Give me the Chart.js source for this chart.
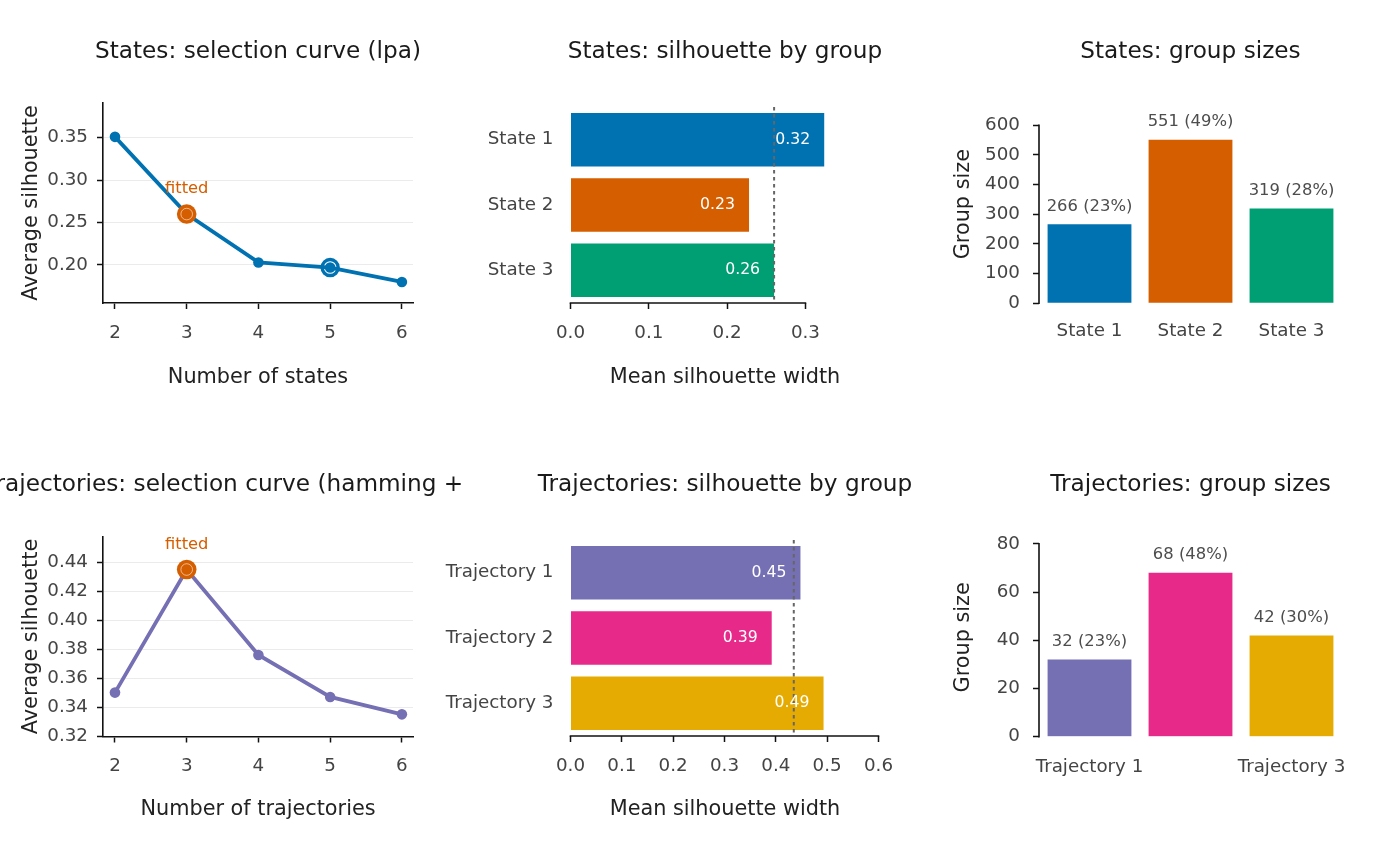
<!DOCTYPE html>
<html>
<head>
<meta charset="utf-8">
<title>Clustering selection summary</title>
<script src="https://cdn.jsdelivr.net/npm/chart.js@4.4.1/dist/chart.umd.min.js"></script>
<style>
  html, body { margin: 0; padding: 0; background: #fff; }
  #wrap { position: relative; width: 1400px; height: 866px; overflow: hidden; }
  canvas { position: absolute; }
</style>
</head>
<body>
<div id="wrap">
  <canvas id="stateCurve" width="465" height="433" style="left:0;top:0"></canvas>
  <canvas id="stateSil" width="510" height="433" style="left:420px;top:0"></canvas>
  <canvas id="stateSize" width="470" height="433" style="left:930px;top:0"></canvas>
  <canvas id="trajCurve" width="465" height="433" style="left:0;top:433px"></canvas>
  <canvas id="trajSil" width="510" height="433" style="left:420px;top:433px"></canvas>
  <canvas id="trajSize" width="470" height="433" style="left:930px;top:433px"></canvas>
</div>
<script>
// states (lpa)
const stateK = [2, 3, 4, 5, 6];
const stateSil = [0.351, 0.260, 0.203, 0.197, 0.180];
const stateFittedK = 3;
const stateRingK = 5;
const stateGroups = ['State 1', 'State 2', 'State 3'];
const stateGroupSil = [0.324, 0.228, 0.260];
const stateMeanSil = 0.260;
const stateSizes = [266, 551, 319];
const stateColors = ['#0072B2', '#D55E00', '#009E73'];

// trajectories (hamming + pam)
const trajK = [2, 3, 4, 5, 6];
const trajSil = [0.350, 0.435, 0.376, 0.347, 0.335];
const trajFittedK = 3;
const trajRingK = null;
const trajGroups = ['Trajectory 1', 'Trajectory 2', 'Trajectory 3'];
const trajGroupSil = [0.448, 0.392, 0.493];
const trajMeanSil = 0.435;
const trajSizes = [32, 68, 42];
const trajColors = ['#7570B3', '#E7298A', '#E6AB02'];

// tick values
const stateCurveTicks = [0.20, 0.25, 0.30, 0.35];
const trajCurveTicks = [0.32, 0.34, 0.36, 0.38, 0.40, 0.42, 0.44];
const stateSilTicks = [0, 0.1, 0.2, 0.3];
const trajSilTicks = [0, 0.1, 0.2, 0.3, 0.4, 0.5, 0.6];
const stateSizeTicks = [0, 100, 200, 300, 400, 500, 600];
const trajSizeTicks = [0, 20, 40, 60, 80];

const FITTED = '#D55E00';
const TITLE_INK = '#1a1a1a';
const LABEL_INK = '#222';
const TICK_INK = '#444';
const AXIS_INK = '#111';
const GRID = '#ebebeb';
const FONT = '"DejaVu Sans", sans-serif';
const TICK_FONT = {size: 18.3};
const AXIS_FONT = {size: 20.8};

Chart.defaults.font.family = FONT;
Chart.defaults.animation = false;
Chart.defaults.events = [];
Chart.defaults.plugins.legend.display = false;
Chart.defaults.plugins.tooltip.enabled = false;

function setTicks(vals) { return s => { s.ticks = vals.map(v => ({value: v})); }; }
function fixWidth(w) { return s => { s.width = w; }; }
function fixHeight(h) { return s => { s.height = h; }; }

// title centred over the panel, drawn without squeezing so it can run off the canvas
function panelTitle(text, clipRight) {
  return {
    id: 'panelTitle',
    afterDraw(chart) {
      const {ctx, chartArea} = chart;
      ctx.save();
      if (clipRight) {
        ctx.beginPath();
        ctx.rect(0, 0, clipRight, chart.height);
        ctx.clip();
      }
      ctx.font = '23.2px ' + FONT;
      ctx.fillStyle = TITLE_INK;
      ctx.textAlign = 'center';
      ctx.textBaseline = 'middle';
      ctx.fillText(text, (chartArea.left + chartArea.right) / 2, 52);
      ctx.restore();
    }
  };
}

// axis line that stops at the first and last break
function capAxis(axisId) {
  return {
    id: 'capAxis',
    afterDraw(chart) {
      const s = chart.scales[axisId];
      const ctx = chart.ctx;
      const a = s.getPixelForValue(s.ticks[0].value);
      const b = s.getPixelForValue(s.ticks[s.ticks.length - 1].value);
      ctx.save();
      ctx.strokeStyle = AXIS_INK;
      ctx.lineWidth = 1.6;
      ctx.beginPath();
      if (s.isHorizontal()) {
        ctx.moveTo(a - 0.8, s.top);
        ctx.lineTo(b + 0.8, s.top);
      } else {
        ctx.moveTo(s.right, a + 0.8);
        ctx.lineTo(s.right, b - 0.8);
      }
      ctx.stroke();
      ctx.restore();
    }
  };
}

function meanLine(value) {
  return {
    id: 'meanLine',
    afterDatasetsDraw(chart) {
      const {ctx, chartArea} = chart;
      const x = chart.scales.x.getPixelForValue(value);
      ctx.save();
      ctx.strokeStyle = '#666';
      ctx.lineWidth = 2;
      ctx.setLineDash([3.5, 3.5]);
      ctx.beginPath();
      ctx.moveTo(x, chartArea.top);
      ctx.lineTo(x, chartArea.bottom);
      ctx.stroke();
      ctx.restore();
    }
  };
}

function barText(texts, inside) {
  return {
    id: 'barText',
    afterDatasetsDraw(chart) {
      const ctx = chart.ctx;
      const bars = chart.getDatasetMeta(0).data;
      ctx.save();
      ctx.textBaseline = 'middle';
      if (inside) {
        ctx.font = '15.7px ' + FONT;
        ctx.fillStyle = '#fff';
        ctx.textAlign = 'right';
      } else {
        ctx.font = '16.4px ' + FONT;
        ctx.fillStyle = '#4d4d4d';
        ctx.textAlign = 'center';
      }
      bars.forEach((bar, i) => {
        if (inside) ctx.fillText(texts[i], bar.x - 14, bar.y);
        else ctx.fillText(texts[i], bar.x, bar.y - 18);
      });
      ctx.restore();
    }
  };
}

const fittedNote = {
  id: 'fittedNote',
  afterDatasetsDraw(chart) {
    const el = chart.getDatasetMeta(1).data[0];
    if (!el) return;
    const ctx = chart.ctx;
    ctx.save();
    ctx.font = '16.3px ' + FONT;
    ctx.fillStyle = FITTED;
    ctx.textAlign = 'center';
    ctx.textBaseline = 'middle';
    ctx.fillText('fitted', el.x, el.y - 25);
    ctx.restore();
  }
};

function selectionCurve(c) {
  const pts = c.ks.map((k, i) => ({x: k, y: c.sil[i]}));
  const fitted = pts.filter(p => p.x === c.fittedK);
  const ring = pts.filter(p => p.x === c.ringK);
  new Chart(document.getElementById(c.id), {
    type: 'line',
    data: {datasets: [
      {data: fitted, showLine: false, pointRadius: 5.8, pointBackgroundColor: 'rgba(0,0,0,0)',
       pointBorderColor: 'rgba(255,255,255,0.55)', pointBorderWidth: 1, order: 0},
      {data: fitted, showLine: false, pointRadius: 9.8, pointBackgroundColor: FITTED,
       pointBorderWidth: 0, order: 1},
      {data: pts, borderColor: c.color, borderWidth: 3.8, pointRadius: 5.3,
       pointBackgroundColor: c.color, pointBorderWidth: 0, order: 2},
      {data: ring, showLine: false, pointRadius: 8, pointBackgroundColor: '#fff',
       pointBorderColor: c.color, pointBorderWidth: 3.4, order: 3}
    ]},
    options: {
      responsive: false,
      layout: {padding: {left: 0, top: c.top, right: 52, bottom: 0}},
      scales: {
        x: {
          type: 'linear', min: 1.833, max: 6.155,
          afterBuildTicks: setTicks(c.ks),
          afterFit: fixHeight(433 - c.bottom),
          grid: {drawOnChartArea: false, tickLength: 6, tickColor: AXIS_INK, tickWidth: 1.5},
          border: {display: true, color: AXIS_INK, width: 1.6},
          ticks: {font: TICK_FONT, color: TICK_INK, padding: 13, callback: v => String(v)},
          title: {display: true, text: c.xTitle, font: AXIS_FONT, color: LABEL_INK,
                  padding: {top: 0, bottom: c.xTitlePad}}
        },
        y: {
          type: 'linear', min: c.yMin, max: c.yMax,
          afterBuildTicks: setTicks(c.yTicks),
          afterFit: fixWidth(103),
          grid: {color: GRID, lineWidth: 1, tickLength: 6, tickColor: AXIS_INK, tickWidth: 1.5},
          border: {display: true, color: AXIS_INK, width: 1.6},
          ticks: {font: TICK_FONT, color: TICK_INK, padding: 9, callback: v => v.toFixed(2)},
          title: {display: true, text: 'Average silhouette', font: AXIS_FONT, color: LABEL_INK,
                  padding: {top: 19.5, bottom: 0}}
        }
      }
    },
    plugins: [panelTitle(c.title, 465), fittedNote]
  });
}

function silhouetteBars(c) {
  new Chart(document.getElementById(c.id), {
    type: 'bar',
    data: {labels: c.groups, datasets: [{data: c.vals, backgroundColor: c.colors,
      barPercentage: 0.82, categoryPercentage: 1}]},
    options: {
      responsive: false,
      indexAxis: 'y',
      layout: {padding: {left: 0, top: 107, right: 50.5, bottom: 0}},
      scales: {
        x: {
          type: 'linear', min: 0, max: c.xMax,
          afterBuildTicks: setTicks(c.xTicks),
          afterFit: fixHeight(130),
          grid: {drawOnChartArea: false, tickLength: 6, tickColor: AXIS_INK, tickWidth: 1.5},
          border: {display: false},
          ticks: {font: TICK_FONT, color: TICK_INK, padding: 13, callback: v => v.toFixed(1)},
          title: {display: true, text: 'Mean silhouette width', font: AXIS_FONT, color: LABEL_INK,
                  padding: {top: 0, bottom: c.xTitlePad}}
        },
        y: {
          afterFit: fixWidth(150.5),
          grid: {display: false, drawTicks: false},
          border: {display: false},
          ticks: {font: TICK_FONT, color: TICK_INK, padding: 17}
        }
      }
    },
    plugins: [panelTitle(c.title), meanLine(c.mean),
              barText(c.vals.map(v => v.toFixed(2)), true), capAxis('x')]
  });
}

function sizeBars(c) {
  const total = c.sizes.reduce((a, b) => a + b, 0);
  const texts = c.sizes.map(n => `${n} (${Math.round(100 * n / total)}%)`);
  new Chart(document.getElementById(c.id), {
    type: 'bar',
    data: {labels: c.groups, datasets: [{data: c.sizes, backgroundColor: c.colors,
      barPercentage: 0.83, categoryPercentage: 1}]},
    options: {
      responsive: false,
      layout: {padding: {left: 0, top: 105, right: 58, bottom: 0}},
      scales: {
        x: {
          afterFit: fixHeight(433 - c.bottom),
          grid: {display: false, drawTicks: false},
          border: {display: false},
          ticks: {font: TICK_FONT, color: TICK_INK, padding: c.xPad, maxRotation: 0, minRotation: 0, autoSkip: true}
        },
        y: {
          type: 'linear', min: 0, max: c.yMax,
          afterBuildTicks: setTicks(c.yTicks),
          afterFit: fixWidth(109),
          grid: {drawOnChartArea: false, tickLength: 6, tickColor: AXIS_INK, tickWidth: 1.5},
          border: {display: false},
          ticks: {font: TICK_FONT, color: TICK_INK, padding: 13},
          title: {display: true, text: 'Group size', font: AXIS_FONT, color: LABEL_INK,
                  padding: {top: 21.5, bottom: 0}}
        }
      }
    },
    plugins: [panelTitle(c.title), barText(texts, false), capAxis('y')]
  });
}

selectionCurve({id: 'stateCurve', ks: stateK, sil: stateSil, fittedK: stateFittedK, ringK: stateRingK,
  color: stateColors[0], yTicks: stateCurveTicks, yMin: 0.1552, yMax: 0.3909, top: 103, bottom: 303,
  xTitlePad: 42.5, title: 'States: selection curve (lpa)', xTitle: 'Number of states'});
silhouetteBars({id: 'stateSil', groups: stateGroups, vals: stateGroupSil, colors: stateColors,
  mean: stateMeanSil, xTicks: stateSilTicks, xMax: 0.3946, xTitlePad: 42.5,
  title: 'States: silhouette by group'});
sizeBars({id: 'stateSize', groups: stateGroups, sizes: stateSizes, colors: stateColors,
  yTicks: stateSizeTicks, yMax: 668, bottom: 303.3, xPad: 17, title: 'States: group sizes'});

selectionCurve({id: 'trajCurve', ks: trajK, sil: trajSil, fittedK: trajFittedK, ringK: trajRingK,
  color: trajColors[0], yTicks: trajCurveTicks, yMin: 0.3197, yMax: 0.4578, top: 103.5, bottom: 303.5,
  xTitlePad: 43.5, title: 'Trajectories: selection curve (hamming + pam)', xTitle: 'Number of trajectories'});
silhouetteBars({id: 'trajSil', groups: trajGroups, vals: trajGroupSil, colors: trajColors,
  mean: trajMeanSil, xTicks: trajSilTicks, xMax: 0.602, xTitlePad: 43.5,
  title: 'Trajectories: silhouette by group'});
sizeBars({id: 'trajSize', groups: trajGroups, sizes: trajSizes, colors: trajColors,
  yTicks: trajSizeTicks, yMax: 82.4, bottom: 303.7, xPad: 20, title: 'Trajectories: group sizes'});
</script>
</body>
</html>
